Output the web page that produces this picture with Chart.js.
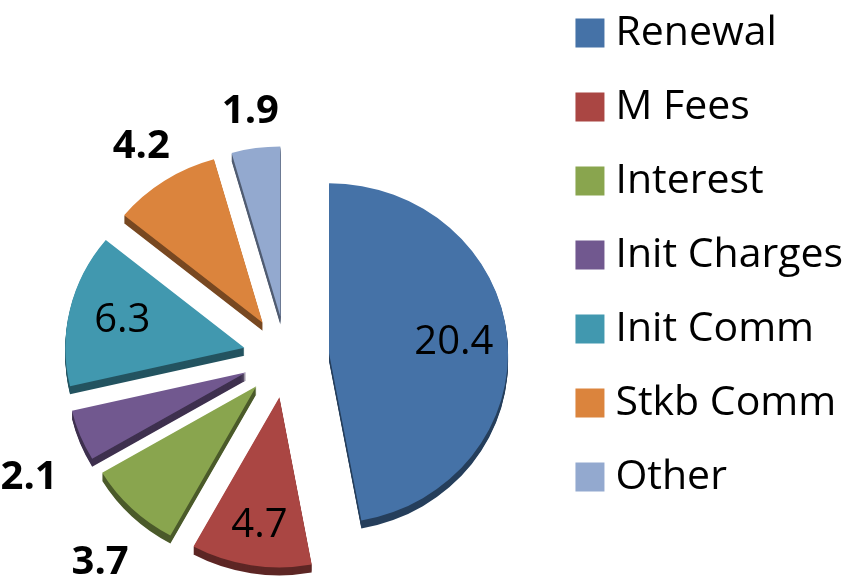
<!DOCTYPE html>
<html>
<head>
<meta charset="utf-8">
<script src="https://cdn.jsdelivr.net/npm/chart.js@4.4.1/dist/chart.umd.min.js"></script>
<style>
  html, body { margin: 0; padding: 0; background: #fff; width: 848px; height: 580px; overflow: hidden; }
  /* canvas is taller than the page so the pie sits low, like the original */
  #wrap { width: 848px; height: 714px; }
</style>
</head>
<body>
<div id="wrap"><canvas id="grafico"></canvas></div>
<script>
const categorias = ['Renewal', 'M Fees', 'Interest', 'Init Charges', 'Init Comm', 'Stkb Comm', 'Other']
const valores = [20.4, 4.7, 3.7, 2.1, 6.3, 4.2, 1.9]
const cores = ['#4572A7', '#AA4643', '#89A54E', '#71588F', '#4198AF', '#DB843D', '#93A9CF']

const explode = 43      // exploded slices
const profundidade = 8  // 3d side
const achatar = 0.95    // tilt

// draws every slice moved out along its middle angle, with a darker side under it
const fatias3d = {
    id: 'fatias3d',
    beforeDatasetDraw(chart, args) {
        const ctx = chart.ctx
        const arcs = args.meta.data
        const desenhar = (arc, dy) => {
            const meio = (arc.startAngle + arc.endAngle) / 2
            ctx.save()
            ctx.translate(arc.x, arc.y + dy)
            ctx.scale(1, achatar)
            ctx.translate(Math.cos(meio) * explode - arc.x, Math.sin(meio) * explode - arc.y)
            arc.draw(ctx)
            ctx.restore()
        }
        ctx.save()
        ctx.filter = 'brightness(55%)'
        for (let dy = profundidade; dy > 0; dy--) arcs.forEach(a => desenhar(a, dy))
        ctx.restore()
        arcs.forEach(a => desenhar(a, 0))
        return false
    }
}

const rotulos = {
    id: 'rotulos',
    afterDatasetsDraw(chart) {
        const ctx = chart.ctx
        const meta = chart.getDatasetMeta(0)
        const total = valores.reduce((a, b) => a + b, 0)
        ctx.save()
        ctx.textAlign = 'center'
        ctx.textBaseline = 'middle'
        ctx.fillStyle = '#000'
        meta.data.forEach((arc, i) => {
            const meio = (arc.startAngle + arc.endAngle) / 2
            const dx = Math.cos(meio), dy = Math.sin(meio)
            const dentro = valores[i] / total > 0.1
            const texto = valores[i].toFixed(1)
            ctx.font = (dentro ? '' : 'bold ') + '40px "Open Sans"'
            let dist
            if (dentro) {
                dist = arc.outerRadius * 0.7
            } else {
                const w = ctx.measureText(texto).width / 2 + 2, h = 17
                const ax = Math.abs(dx) > 1e-6 ? w / Math.abs(dx) : Infinity
                const ay = Math.abs(dy) > 1e-6 ? h / Math.abs(dy) : Infinity
                dist = arc.outerRadius + 22 + Math.min(ax, ay)
            }
            const d = explode + dist
            // lower labels sit below the 3d side
            const baixo = dy > 0 ? profundidade * (dentro ? 1.4 : 2.8) : 0
            ctx.fillText(texto, arc.x + dx * d, arc.y + dy * d * achatar + baixo)
        })
        ctx.restore()
    }
}

const ctx = document.getElementById('grafico')

let grafico = new Chart(ctx, {
    type: 'pie',
    data: {
        labels: categorias,
        datasets: [{
            data: valores,
            backgroundColor: cores,
            borderWidth: 0,
            radius: 179,
            clip: false
        }]
    },
    options: {
        responsive: true,
        maintainAspectRatio: false,
        animation: false,
        layout: {
            padding: { left: 20.5, right: -5, top: -20.5, bottom: 0 }
        },
        plugins: {
            tooltip: { enabled: false },
            legend: {
                position: 'right',
                align: 'start',
                labels: {
                    color: '#000',
                    font: { family: 'Open Sans', size: 41 },
                    boxWidth: 10,
                    boxHeight: 10,
                    padding: 33,
                    generateLabels: chart =>
                        Chart.overrides.doughnut.plugins.legend.labels.generateLabels(chart)
                            .map(item => ({ ...item, strokeStyle: item.fillStyle, lineWidth: 19 }))
                }
            }
        }
    },
    plugins: [fatias3d, rotulos]
})
</script>
</body>
</html>
